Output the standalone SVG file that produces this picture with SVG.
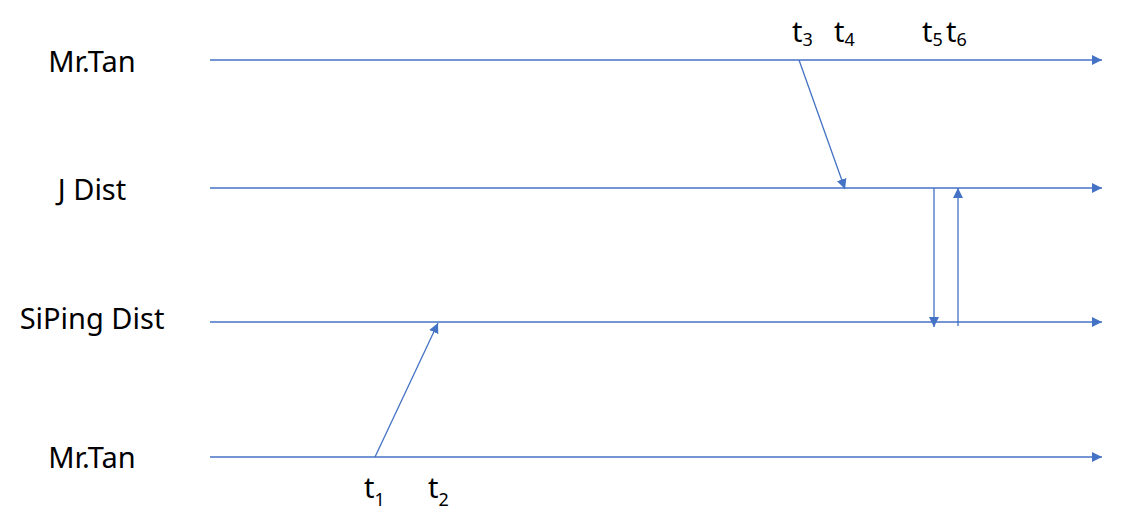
<svg xmlns="http://www.w3.org/2000/svg" width="1130" height="526" viewBox="0 0 1130 526">
<style>
.lbl{font-family:"Noto Sans","DejaVu Sans",sans-serif;font-size:29px;fill:#000;text-anchor:middle}
.t{font-family:"Noto Sans","DejaVu Sans",sans-serif;font-size:29px;fill:#000}
.sub{font-size:18px}
.ln{stroke:#4472C4;stroke-width:1.3;fill:none}
</style>
<defs>
<marker id="ah" viewBox="0 0 10 10" refX="10" refY="5" markerWidth="10" markerHeight="10" markerUnits="userSpaceOnUse" orient="auto">
<path d="M0,0 L10,5 L0,10 Z" fill="#4472C4"/>
</marker>
</defs>
<rect width="1130" height="526" fill="#fff"/>
<g id="node-mrtan-top"><text class="lbl" x="92" y="72">Mr.Tan</text></g>
<g id="node-jdist"><text class="lbl" x="92" y="200">J Dist</text></g>
<g id="node-siping"><text class="lbl" x="92" y="329">SiPing Dist</text></g>
<g id="node-mrtan-bottom"><text class="lbl" x="92" y="468">Mr.Tan</text></g>
<g id="time-labels">
<text class="t" x="792" y="42">t<tspan class="sub" dy="4">3</tspan></text>
<text class="t" x="834" y="42">t<tspan class="sub" dy="4">4</tspan></text>
<text class="t" x="922" y="42">t<tspan class="sub" dy="4">5</tspan></text>
<text class="t" x="946" y="42">t<tspan class="sub" dy="4">6</tspan></text>
<text class="t" x="364" y="498">t<tspan class="sub" dy="8">1</tspan></text>
<text class="t" x="428" y="498">t<tspan class="sub" dy="8">2</tspan></text>
</g>
<g id="connectors">
<line class="ln" x1="210" y1="60" x2="1102" y2="60" marker-end="url(#ah)"/>
<line class="ln" x1="210" y1="188" x2="1102" y2="188" marker-end="url(#ah)"/>
<line class="ln" x1="210" y1="322" x2="1102" y2="322" marker-end="url(#ah)"/>
<line class="ln" x1="210" y1="457" x2="1102" y2="457" marker-end="url(#ah)"/>
<line class="ln" x1="799" y1="60" x2="845" y2="189" marker-end="url(#ah)"/>
<line class="ln" x1="375" y1="457" x2="438" y2="323" marker-end="url(#ah)"/>
<line class="ln" x1="934" y1="188" x2="934" y2="327" marker-end="url(#ah)"/>
<line class="ln" x1="958" y1="326" x2="958" y2="188" marker-end="url(#ah)"/>
</g>
</svg>
